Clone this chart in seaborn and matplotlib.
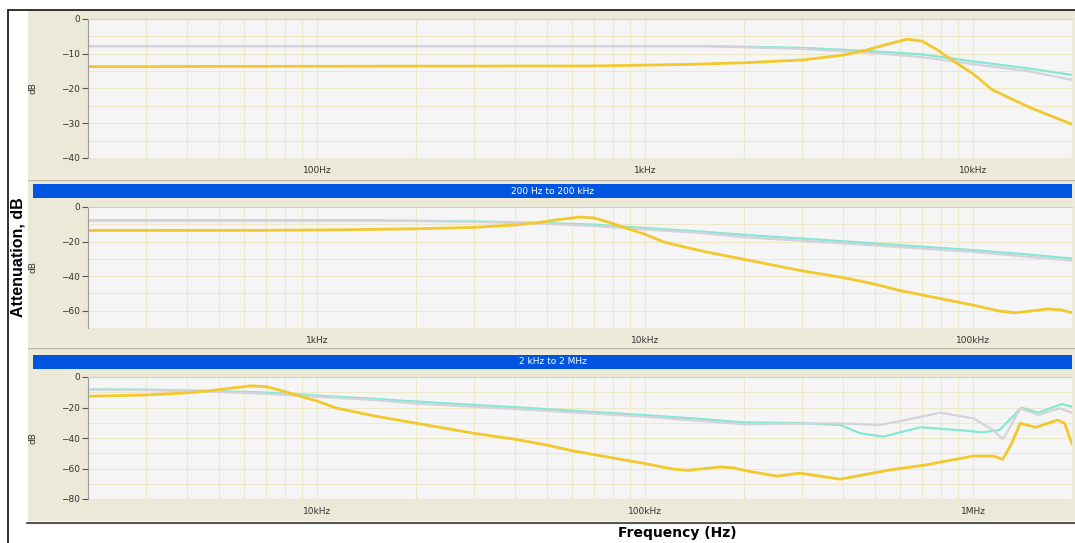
import pandas as pd
import seaborn as sns
import matplotlib.pyplot as plt
from matplotlib.patches import Rectangle
from matplotlib.lines import Line2D
from matplotlib.ticker import FixedLocator, LogLocator, MultipleLocator, NullFormatter

# attenuation traces (Hz, dB)
yellow_f = [20, 700, 1300, 2000, 3000, 4000, 4700, 5500, 6300, 7000, 7800, 8600, 10000,
            11400, 13500, 15000, 20000, 30000, 40000, 50000, 60000, 100000, 121000,
            135000, 169000, 185000, 200000, 252000, 296000, 393000, 555000, 714000,
            1000000, 1150000, 1230000, 1310000, 1390000, 1550000, 1810000, 1900000, 2000000]
yellow_db = [-13.7, -13.5, -13.1, -12.6, -11.8, -10.4, -9.0, -7.2, -5.8, -6.4, -9.0, -11.8, -15.8,
             -20.3, -23.6, -25.6, -30.3, -36.9, -40.8, -44.6, -48.4, -56.8, -60.3,
             -61.2, -59.0, -59.5, -61.2, -65.0, -63.0, -67.0, -61.0, -57.7,
             -51.8, -51.8, -54.0, -43.5, -30.4, -33.0, -28.2, -30.4, -44.0]

teal_f = [20, 1500, 3000, 5000, 7000, 10000, 14700, 20000, 40000, 100000, 147000,
          200000, 296000, 393000, 452000, 531000, 690000, 900000, 1070000, 1200000,
          1320000, 1400000, 1580000, 1860000, 2000000]
teal_db = [-7.8, -7.8, -8.3, -9.3, -10.2, -12.2, -14.2, -16.1, -19.8, -25.0, -27.5,
           -29.8, -30.2, -31.5, -36.9, -39.1, -33.0, -34.8, -36.3, -34.8,
           -26.0, -20.1, -23.4, -17.7, -19.5]

grey_f = [20, 1500, 3000, 5000, 7000, 10000, 14700, 20000, 40000, 100000, 200000,
          296000, 393000, 518000, 624000, 793000, 1000000, 1150000, 1230000, 1280000,
          1390000, 1580000, 1830000, 2000000]
grey_db = [-7.8, -7.8, -8.6, -9.8, -11.0, -13.0, -15.0, -17.5, -21.0, -26.0, -31.0,
           -30.6, -30.4, -31.5, -28.2, -23.4, -27.1, -34.8, -40.9, -34.8,
           -20.5, -24.9, -20.5, -23.4]

panel_ranges = [(20, 2e4), (200, 2e5), (2e3, 2e6)]
panel_ylims = [(-40, 0), (-70, 0), (-80, 0)]
ytick_steps = [10, 20, 20]
ygrid_steps = [5, 10, 10]
tick_freqs = [[100, 1e3, 1e4], [1e3, 1e4, 1e5], [1e4, 1e5, 1e6]]
tick_labels = [['100Hz', '1kHz', '10kHz'], ['1kHz', '10kHz', '100kHz'], ['10kHz', '100kHz', '1MHz']]
bar_titles = [None, '200 Hz to 200 kHz', '2 kHz to 2 MHz']

traces = pd.concat([
    pd.DataFrame({'freq': teal_f, 'dB': teal_db, 'trace': 'teal'}),
    pd.DataFrame({'freq': grey_f, 'dB': grey_db, 'trace': 'grey'}),
    pd.DataFrame({'freq': yellow_f, 'dB': yellow_db, 'trace': 'yellow'}),
])
styles = {'teal': ('#84e8d2', 1.6), 'grey': ('#d6d2dc', 1.6), 'yellow': ('#f2c82c', 2.0)}

sns.set_style('white')
plt.rcParams['font.family'] = ['DejaVu Sans']

W, H = 1075, 543
fig = plt.figure(figsize=(W / 100, H / 100), dpi=100, facecolor='white')


def box(x0, y0, x1, y1, color):
    fig.add_artist(Rectangle((x0 / W, 1 - y1 / H), (x1 - x0) / W, (y1 - y0) / H,
                             transform=fig.transFigure, facecolor=color,
                             edgecolor='none', zorder=-2))


def line(x0, y0, x1, y1, color, lw=1.0):
    fig.add_artist(Line2D([x0 / W, x1 / W], [1 - y0 / H, 1 - y1 / H],
                          transform=fig.transFigure, color=color, lw=lw, zorder=-1))


# window chrome
beige = '#ece9d8'
box(28, 11, 1075, 179, beige)
box(28, 181, 1075, 347, beige)
box(28, 349, 1075, 521, beige)
line(28, 180, 1075, 180, '#b9b5a3')
line(28, 348, 1075, 348, '#b9b5a3')
line(27, 522.5, 1075, 522.5, '#555555', 1.5)
line(7.5, 10, 7.5, 543, '#222222', 1.3)
line(7.5, 10, 1075, 10, '#222222', 1.3)

# plot areas in pixels: left, top, right, bottom
areas = [(88, 19, 1072, 158), (88, 207, 1072, 328), (88, 377, 1072, 499)]
bars = [None, (33, 184, 1072, 198), (33, 355, 1072, 369)]

for i, (x0, y0, x1, y1) in enumerate(areas):
    ax = fig.add_axes([x0 / W, 1 - y1 / H, (x1 - x0) / W, (y1 - y0) / H])
    ax.set_facecolor('#f5f5f5')
    for name in ['teal', 'grey', 'yellow']:
        color, lw = styles[name]
        sns.lineplot(data=traces[traces['trace'] == name], x='freq', y='dB',
                     color=color, lw=lw, ax=ax, estimator=None, sort=False, legend=False)
    ax.set_xscale('log')
    ax.set_xlim(*panel_ranges[i])
    ax.set_ylim(*panel_ylims[i])

    ax.xaxis.set_major_locator(FixedLocator(tick_freqs[i]))
    ax.set_xticklabels(tick_labels[i])
    ax.xaxis.set_minor_locator(LogLocator(base=10, subs=range(2, 10)))
    ax.xaxis.set_minor_formatter(NullFormatter())
    ax.yaxis.set_major_locator(MultipleLocator(ytick_steps[i]))
    ax.yaxis.set_minor_locator(MultipleLocator(ygrid_steps[i]))

    ax.grid(True, which='both', color='#eee8c9', lw=0.8)
    ax.set_axisbelow(True)
    ax.tick_params(axis='x', which='major', direction='out', length=3.5, width=0.8,
                   color='#d9534f', pad=2.5, labelsize=6.5, labelcolor='#333333')
    ax.tick_params(axis='x', which='minor', length=0)
    ax.tick_params(axis='y', which='major', direction='out', length=4.5, width=0.8,
                   color='#555555', pad=1.5, labelsize=6.5, labelcolor='#333333',
                   left=True)
    ax.tick_params(axis='y', which='minor', length=0)
    ax.set_xlabel('')
    ax.set_ylabel('')
    for side in ['right', 'bottom']:
        ax.spines[side].set_visible(False)
    ax.spines['left'].set_color('#9a9a9a')
    ax.spines['top'].set_color('#cfcfcf')
    ax.spines['top'].set_linewidth(0.8)

    fig.text(33 / W, 1 - (y0 + y1) / 2 / H, 'dB', rotation=90, ha='center', va='center',
             fontsize=6.5, color='#333333')

    if bars[i] is not None:
        bx0, by0, bx1, by1 = bars[i]
        box(bx0, by0, bx1, by1, '#0055e0')
        fig.text((bx0 + bx1) / 2 / W, 1 - (by0 + by1) / 2 / H, bar_titles[i],
                 ha='center', va='center', fontsize=6.5, color='white')

fig.text(18 / W, 1 - 257 / H, 'Attenuation, dB', rotation=90, ha='center', va='center',
         fontsize=11.5, fontweight='bold', color='black',
         family=['Liberation Sans', 'DejaVu Sans'])
fig.text(677 / W, 1 - 533 / H, 'Frequency (Hz)', ha='center', va='center',
         fontsize=10, fontweight='bold', color='black')

fig.savefig('out.png', dpi=100, facecolor='white')
